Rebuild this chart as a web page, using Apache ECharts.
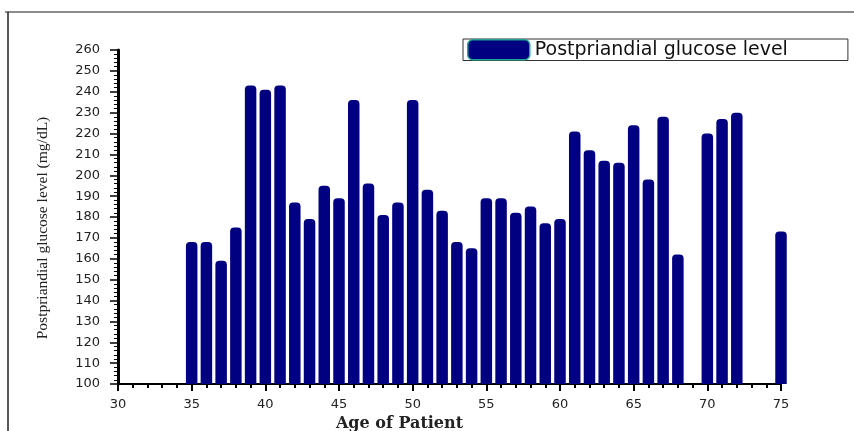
<!DOCTYPE html>
<html>
<head>
<meta charset="utf-8">
<script src="https://cdn.jsdelivr.net/npm/echarts@6/dist/echarts.min.js"></script>
<style>
html,body{margin:0;padding:0;background:#fff;}
#chart{width:854px;height:431px;}
</style>
</head>
<body>
<div id="chart"></div>
<script>
const ages = [35,36,37,38,39,40,41,42,43,44,45,46,47,48,49,50,51,52,53,54,55,56,57,58,59,60,61,62,63,64,65,66,67,68,70,71,72,75];
const glucose = [168,168,159,175,243,241,243,187,179,195,189,236,196,181,187,236,193,183,168,165,189,189,182,185,177,179,221,212,207,206,224,198,228,162,220,227,230,173];
const seriesName = 'Postpriandial glucose level';
const xAxisTitle = 'Age of Patient';
const yAxisTitle = 'Postpriandial glucose level (mg/dL)';

const points = ages.map((a, i) => [a, glucose[i]]);

const chart = echarts.init(document.getElementById('chart'), null, {renderer: 'canvas'});
chart.setOption({
  animation: false,
  backgroundColor: '#fff',
  graphic: [
    {type: 'line', shape: {x1: 5, y1: 12, x2: 854, y2: 12}, style: {stroke: '#666', lineWidth: 1.5}},
    {type: 'line', shape: {x1: 8, y1: 12, x2: 8, y2: 431}, style: {stroke: '#222', lineWidth: 1.5}}
  ],
  grid: {left: 118, right: 73, top: 50, bottom: 47, containLabel: false, outerBoundsMode: 'none'},
  legend: {
    show: true,
    data: [seriesName],
    left: 463,
    top: 39,
    padding: [0, 60, 0, 4],
    itemWidth: 62,
    itemHeight: 20,
    itemGap: 6,
    borderColor: '#333',
    borderWidth: 1,
    icon: 'roundRect',
    itemStyle: {color: '#000080', borderColor: '#1fa595', borderWidth: 1.5},
    textStyle: {fontFamily: 'DejaVu Sans', fontSize: 19, color: '#111', padding: [1, 0, 0, 0]}
  },
  xAxis: {
    type: 'value',
    min: 30,
    max: 75,
    interval: 5,
    name: xAxisTitle,
    nameLocation: 'middle',
    nameGap: 31,
    nameTextStyle: {fontFamily: 'DejaVu Serif', fontSize: 16, fontWeight: 'bold', color: '#222', padding: [0, 100, 0, 0]},
    axisLine: {show: true, onZero: false, lineStyle: {color: '#000', width: 2}},
    axisTick: {show: true, inside: false, length: 7, lineStyle: {color: '#000', width: 2}},
    minorTick: {show: true, splitNumber: 5, length: 4, lineStyle: {color: '#000', width: 2}},
    axisLabel: {fontFamily: 'DejaVu Sans', fontSize: 13, color: '#222', margin: 14},
    splitLine: {show: false},
    minorSplitLine: {show: false}
  },
  yAxis: {
    type: 'value',
    min: 100,
    max: 260,
    interval: 10,
    name: yAxisTitle,
    nameLocation: 'middle',
    nameGap: 67,
    nameRotate: 90,
    nameTextStyle: {fontFamily: 'Liberation Serif', fontSize: 15.5, color: '#222', padding: [0, 22, 0, 0]},
    axisLine: {show: true, onZero: false, lineStyle: {color: '#000', width: 3}},
    axisTick: {show: true, inside: false, length: 8, lineStyle: {color: '#000', width: 1.5}},
    minorTick: {show: true, splitNumber: 5, length: 4, lineStyle: {color: '#000', width: 1}},
    axisLabel: {fontFamily: 'DejaVu Sans', fontSize: 13, color: '#222', margin: 18},
    splitLine: {show: false},
    minorSplitLine: {show: false}
  },
  series: [{
    name: seriesName,
    type: 'bar',
    data: points,
    barWidth: 11.5,
    clip: true,
    z: 1,
    itemStyle: {color: '#000080', borderRadius: [4, 4, 0, 0]}
  }]
});
</script>
</body>
</html>
